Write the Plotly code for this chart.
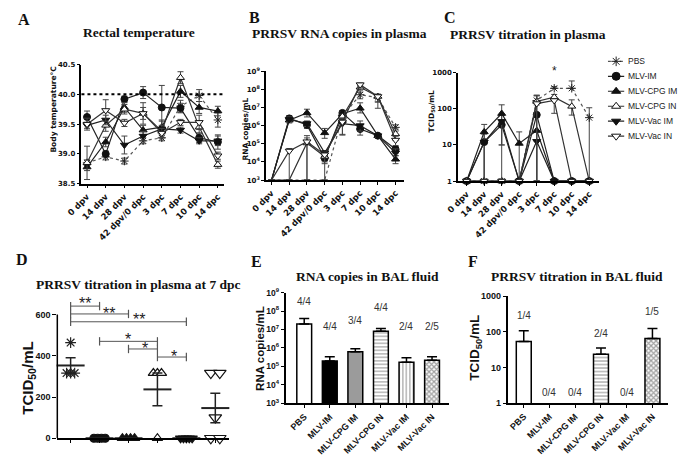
import numpy as np
import plotly.graph_objects as go

W, H = 685, 466
SANS = "Liberation Sans, Arial, sans-serif"
WIDE = "DejaVu Sans, Verdana, sans-serif"
SERIF = "Liberation Serif, Times New Roman, serif"

TIMEPOINTS = ["0 dpv", "14 dpv", "28 dpv", "42 dpv/0 dpc", "3 dpc", "7 dpc", "10 dpc", "14 dpc"]
GROUPS = ["PBS", "MLV-IM", "MLV-CPG IM", "MLV-CPG IN", "MLV-Vac IM", "MLV-Vac IN"]

# ---------- Panel A: rectal temperature (deg C), mean and SEM ----------
TEMP_PBS    = [38.85, 38.95, 38.88, 39.22, 39.27, 39.80, 39.98, 39.57]
TEMP_MLV_IM = [39.62, 39.00, 39.92, 40.03, 39.78, 39.77, 39.27, 39.20]
TEMP_CPG_IM = [38.78, 39.20, 39.78, 39.40, 39.45, 40.05, 39.78, 39.72]
TEMP_CPG_IN = [38.85, 39.48, 39.75, 39.68, 39.38, 40.28, 39.45, 38.82]
TEMP_VAC_IM = [39.48, 39.57, 39.15, 39.30, 39.42, 39.40, 39.22, 39.22]
TEMP_VAC_IN = [39.50, 39.73, 39.52, 39.68, 39.35, 39.53, 39.53, 38.97]
SEM_TEMP_PBS    = [0.05, 0.05, 0.05, 0.05, 0.05, 0.10, 0.10, 0.12]
SEM_TEMP_MLV_IM = [0.10, 0.05, 0.05, 0.10, 0.37, 0.08, 0.08, 0.12]
SEM_TEMP_CPG_IM = [0.06, 0.08, 0.08, 0.08, 0.10, 0.10, 0.10, 0.08]
SEM_TEMP_CPG_IN = [0.28, 0.10, 0.08, 0.18, 0.10, 0.10, 0.10, 0.06]
SEM_TEMP_VAC_IM = [0.05, 0.08, 0.15, 0.08, 0.15, 0.05, 0.05, 0.08]
SEM_TEMP_VAC_IN = [0.10, 0.18, 0.06, 0.10, 0.08, 0.05, 0.12, 0.06]
FEVER_THRESHOLD = 40.0

# ---------- Panel B: PRRSV RNA copies/mL in plasma ----------
RNA_PBS    = [1e3, 1e3, 1e3, 1e3, 3.2e6, 5.0e7, 3.5e7, 8.0e5]
RNA_MLV_IM = [1e3, 2.5e6, 1.1e6, 1.6e4, 5.0e6, 6.5e5, 2.8e5, 5.0e4]
RNA_CPG_IM = [1e3, 2.0e6, 5.0e6, 4.0e5, 4.5e6, 9.0e6, 2.8e5, 1.4e4]
RNA_CPG_IN = [1e3, 1e3, 1.1e5, 2.0e4, 3.2e6, 1.3e8, 4.0e7, 3.5e5]
RNA_VAC_IM = [1e3, 2.2e6, 1.3e6, 3.2e4, 1.3e6, 1.0e6, 2.8e5, 3.2e4]
RNA_VAC_IN = [1e3, 4.0e4, 1.3e5, 2.5e4, 1.6e6, 1.8e8, 4.0e7, 1.6e5]
RNA_HI_PBS    = [0, 0, 0, 0, 1.5e6, 2.0e7, 1.5e7, 3.0e5]
RNA_LO_PBS    = [0, 0, 0, 0, 1.0e6, 2.0e7, 1.5e7, 3.0e5]
RNA_HI_MLV_IM = [0, 1.0e6, 5.0e5, 1.0e4, 1.5e6, 2.0e5, 5.0e4, 2.0e4]
RNA_LO_MLV_IM = [0, 8.0e5, 4.0e5, 8.0e3, 1.5e6, 3.5e5, 5.0e4, 2.0e4]
RNA_HI_CPG_IM = [0, 8.0e5, 3.0e6, 3.0e5, 1.0e6, 9.0e6, 5.0e4, 8.0e3]
RNA_LO_CPG_IM = [0, 6.0e5, 2.0e6, 2.0e5, 1.0e6, 4.0e6, 5.0e4, 6.0e3]
RNA_HI_CPG_IN = [0, 0, 1.0e5, 1.0e4, 1.0e6, 3.0e7, 1.0e7, 3.0e5]
RNA_LO_CPG_IN = [0, 0, 1.09e5, 1.9e4, 1.0e6, 4.0e7, 3.1e7, 2.0e5]
RNA_HI_VAC_IM = [0, 8.0e5, 5.0e5, 1.0e4, 1.0e6, 8.0e5, 5.0e4, 2.0e4]
RNA_LO_VAC_IM = [0, 6.0e5, 4.0e5, 1.0e4, 9.7e5, 5.0e5, 5.0e4, 1.0e4]
RNA_HI_VAC_IN = [0, 1.5e4, 1.5e5, 1.0e4, 1.0e6, 4.0e7, 1.5e7, 1.0e5]
RNA_LO_VAC_IN = [0, 3.9e4, 1.29e5, 1.5e4, 1.3e6, 5.0e7, 2.0e7, 8.0e4]

# ---------- Panel C: PRRSV titration (TCID50/mL) in plasma ----------
TITER_PBS    = [1, 1, 1, 1, 170, 370, 370, 57]
TITER_MLV_IM = [1, 12, 36, 1, 68, 1, 1, 1]
TITER_CPG_IM = [1, 23, 74, 11, 25, 1, 1, 1]
TITER_CPG_IN = [1, 1, 1, 1, 160, 210, 117, 1]
TITER_VAC_IM = [1, 12, 45, 1, 12.6, 1, 1, 1]
TITER_VAC_IN = [1, 1, 1, 1, 140, 170, 1, 1]
TITER_HI_PBS    = [0, 0, 0, 0, 70, 40, 220, 50]
TITER_LO_PBS    = [0, 0, 0, 0, 0, 0, 0, 56]
TITER_HI_MLV_IM = [0, 8, 30, 0, 60, 0, 0, 0]
TITER_LO_MLV_IM = [0, 11, 26, 0, 67, 0, 0, 0]
TITER_HI_CPG_IM = [0, 14, 55, 12, 0, 0, 0, 0]
TITER_LO_CPG_IM = [0, 22, 64, 10, 24, 0, 0, 0]
TITER_HI_CPG_IN = [0, 0, 0, 0, 70, 40, 60, 0]
TITER_LO_CPG_IN = [0, 0, 0, 0, 159, 0, 50, 0]
TITER_HI_VAC_IM = [0, 0, 0, 0, 0, 0, 0, 0]
TITER_LO_VAC_IM = [0, 11, 44, 0, 11.6, 0, 0, 0]
TITER_HI_VAC_IN = [0, 0, 0, 0, 90, 0, 0, 0]
TITER_LO_VAC_IN = [0, 0, 0, 0, 139, 95, 0, 0]
SIG_C_TIMEPOINT = "7 dpc"

# ---------- Panel D: individual titers at 7 dpc ----------
D_PBS    = [464, 316, 316, 316]
D_MLV_IM = [0, 0, 0, 0]
D_CPG_IM = [0, 0, 0, 0]
D_CPG_IN = [316, 316, 316, 0]
D_VAC_IM = [0, 0, 0, 0, 0]
D_VAC_IN = [316, 316, 100, 0, 0]
SIG_PAIRS = [(0, 1), (0, 2), (0, 4), (1, 3), (2, 3), (3, 4)]
SIG_LABELS = ["**", "**", "**", "*", "*", "*"]

# ---------- Panel E / F: BAL fluid ----------
BAL_RNA     = [2.0e7, 2.0e5, 6.2e5, 8.0e6, 1.7e5, 2.2e5]
BAL_RNA_ERR = [2.0e7, 1.3e5, 2.8e5, 3.4e6, 1.3e5, 1.1e5]
BAL_RNA_POS = ["4/4", "4/4", "3/4", "4/4", "2/4", "2/5"]
BAL_TITER     = [54, None, None, 23.5, None, 65]
BAL_TITER_ERR = [53, 0, 0, 12, 0, 60]
BAL_TITER_POS = ["1/4", "0/4", "0/4", "2/4", "0/4", "1/5"]

# ---------------- styles (not data) ----------------
STYLE = {
    "PBS":        dict(symbol="asterisk-open", color="#222", line="#222", dash="dot", lc="#555"),
    "MLV-IM":     dict(symbol="circle", color="#111", line="#111", dash="solid", lc="#222"),
    "MLV-CPG IM": dict(symbol="triangle-up", color="#111", line="#111", dash="solid", lc="#222"),
    "MLV-CPG IN": dict(symbol="triangle-up", color="white", line="#111", dash="solid", lc="#333"),
    "MLV-Vac IM": dict(symbol="triangle-down", color="#111", line="#111", dash="solid", lc="#222"),
    "MLV-Vac IN": dict(symbol="triangle-down", color="white", line="#111", dash="solid", lc="#333"),
}

def px_x(p):
    return p / W

def px_y(p):
    return 1 - p / H

fig = go.Figure()

def add_series(xa, ya, ys, hi, lo, grp, size=7):
    st = STYLE[grp]
    fig.add_trace(go.Scatter(
        x=TIMEPOINTS, y=ys, xaxis=xa, yaxis=ya, mode="lines+markers", name=grp,
        line=dict(color=st["lc"], width=1.2, dash=st["dash"]),
        marker=dict(symbol=st["symbol"], size=size, color=st["color"],
                    line=dict(color=st["line"], width=1)),
        error_y=dict(type="data", array=hi, arrayminus=lo, symmetric=False,
                     color="#444", thickness=1, width=3),
        cliponaxis=False, showlegend=False))

# Panel A
temps = [TEMP_PBS, TEMP_MLV_IM, TEMP_CPG_IM, TEMP_CPG_IN, TEMP_VAC_IM, TEMP_VAC_IN]
sems = [SEM_TEMP_PBS, SEM_TEMP_MLV_IM, SEM_TEMP_CPG_IM, SEM_TEMP_CPG_IN, SEM_TEMP_VAC_IM, SEM_TEMP_VAC_IN]
for g, ys, e in zip(GROUPS, temps, sems):
    add_series("x", "y", ys, e, e, g)

# Panel B
rnas = [RNA_PBS, RNA_MLV_IM, RNA_CPG_IM, RNA_CPG_IN, RNA_VAC_IM, RNA_VAC_IN]
rhi = [RNA_HI_PBS, RNA_HI_MLV_IM, RNA_HI_CPG_IM, RNA_HI_CPG_IN, RNA_HI_VAC_IM, RNA_HI_VAC_IN]
rlo = [RNA_LO_PBS, RNA_LO_MLV_IM, RNA_LO_CPG_IM, RNA_LO_CPG_IN, RNA_LO_VAC_IM, RNA_LO_VAC_IN]
for g, ys, h, l in zip(GROUPS, rnas, rhi, rlo):
    add_series("x2", "y2", ys, h, l, g)

# Panel C
tits = [TITER_PBS, TITER_MLV_IM, TITER_CPG_IM, TITER_CPG_IN, TITER_VAC_IM, TITER_VAC_IN]
thi = [TITER_HI_PBS, TITER_HI_MLV_IM, TITER_HI_CPG_IM, TITER_HI_CPG_IN, TITER_HI_VAC_IM, TITER_HI_VAC_IN]
tlo = [TITER_LO_PBS, TITER_LO_MLV_IM, TITER_LO_CPG_IM, TITER_LO_CPG_IN, TITER_LO_VAC_IM, TITER_LO_VAC_IN]
for g, ys, h, l in zip(GROUPS, tits, thi, tlo):
    add_series("x3", "y3", ys, h, l, g)

# Manual legend for panel C (hidden helper axes x7/y7)
for i, g in enumerate(GROUPS):
    st = STYLE[g]
    fig.add_trace(go.Scatter(
        x=[0, 0.5, 1], y=[i, i, i], xaxis="x7", yaxis="y7", mode="lines",
        line=dict(color=st["lc"], width=1.2, dash=st["dash"]), showlegend=False, hoverinfo="skip"))
    fig.add_trace(go.Scatter(
        x=[0.5], y=[i], xaxis="x7", yaxis="y7", mode="markers",
        marker=dict(symbol=st["symbol"], size=8, color=st["color"], line=dict(color=st["line"], width=1)),
        showlegend=False, hoverinfo="skip", cliponaxis=False))

# Panel D
d_sets = [D_PBS, D_MLV_IM, D_CPG_IM, D_CPG_IN, D_VAC_IM, D_VAC_IN]
d_steps = [0.14, 0.13, 0.14, 0.14, 0.10, 0.31]
d_sizes = [9, 8, 9, 9, 9, 11]

def spread(vals, step):
    counts = {}
    for v in vals:
        counts[v] = counts.get(v, 0) + 1
    seen, offs = {}, []
    for v in vals:
        k = seen.get(v, 0)
        seen[v] = k + 1
        offs.append((k - (counts[v] - 1) / 2) * step)
    return offs

for i, (g, vals) in enumerate(zip(GROUPS, d_sets)):
    st = STYLE[g]
    offs = spread(vals, d_steps[i])
    fig.add_trace(go.Scatter(
        x=[i + o for o in offs], y=vals, xaxis="x4", yaxis="y4", mode="markers",
        marker=dict(symbol=st["symbol"], size=d_sizes[i], color=st["color"],
                    line=dict(color=st["line"], width=1.2)),
        cliponaxis=False, showlegend=False))
    arr = np.array(vals, dtype=float)
    mean = arr.mean()
    sem = arr.std(ddof=1) / np.sqrt(len(arr))
    fig.add_trace(go.Scatter(
        x=[i], y=[mean], xaxis="x4", yaxis="y4", mode="markers",
        marker=dict(symbol="line-ew-open", size=20, color="#222", line=dict(width=2, color="#222")),
        error_y=dict(type="data", array=[sem], color="#222", thickness=1.5, width=5),
        cliponaxis=False, showlegend=False))

sig_levels = [641, 603, 565, 470, 433, 394]
sig_label_x = [0.5, 1.34, 2.35, 2.0, 2.56, 3.57]
sig_label_shift = [3, 0, 2, 2, 0, 1]
for (a, b), lvl in zip(SIG_PAIRS, sig_levels):
    fig.add_trace(go.Scatter(
        x=[a, b], y=[lvl, lvl], xaxis="x4", yaxis="y4", mode="lines+markers",
        line=dict(color="#555", width=1),
        marker=dict(symbol="line-ns-open", size=6, color="#555", line=dict(width=1.2, color="#555")),
        cliponaxis=False, showlegend=False))

# Panel E / F bars
BAR_FILL = ["white", "black", "#9b9b9b", "white", "white", "white"]
BAR_PATTERN = ["", "", "", "-", "|", "x"]
BAR_SOLIDITY = [0.3, 0.3, 0.3, 0.35, 0.35, 0.6]
for xa, ya, ys, err in [("x5", "y5", BAL_RNA, BAL_RNA_ERR), ("x6", "y6", BAL_TITER, BAL_TITER_ERR)]:
    fig.add_trace(go.Bar(
        x=GROUPS, y=ys, xaxis=xa, yaxis=ya, width=0.58,
        marker=dict(color=BAR_FILL, line=dict(color="black", width=1.5),
                    pattern=dict(shape=BAR_PATTERN, fgcolor="black", size=3.5, solidity=BAR_SOLIDITY)),
        error_y=dict(type="data", array=err, arrayminus=[0] * 6, symmetric=False,
                     color="black", thickness=1.5, width=5),
        showlegend=False))

# ---------------- layout ----------------
tick_xw = dict(family=WIDE, size=8.5, color="#111", weight="bold")
tick_yw = dict(family=WIDE, size=7, color="#111", weight="bold")
tick_b9 = dict(family=SANS, size=9, color="#111", weight="bold")
tick_b85 = dict(family=SANS, size=8.5, color="#111", weight="bold")
common = dict(showline=True, linecolor="black", linewidth=1.5, ticks="outside", ticklen=3,
              tickwidth=1.2, tickcolor="black", showgrid=False, zeroline=False)

layout = dict(
    width=W, height=H, margin=dict(l=0, r=0, t=0, b=0),
    plot_bgcolor="white", paper_bgcolor="white", showlegend=False,
    xaxis=dict(domain=[px_x(67), px_x(213)], anchor="y", type="category", range=[-0.3, 7.33],
               tickangle=-45, tickfont=tick_xw, **common),
    yaxis=dict(domain=[px_y(182), px_y(60)], anchor="x", range=[38.5, 40.5],
               tickvals=[38.5, 39, 39.5, 40, 40.5], tickformat=".1f", tickfont=tick_yw, **common),
    xaxis2=dict(domain=[px_x(256), px_x(397)], anchor="y2", type="category", range=[-0.31, 7.46],
                tickangle=-45, tickfont=tick_xw, **common),
    yaxis2=dict(domain=[px_y(178.3), px_y(66.7)], anchor="x2", type="log", range=[3, 9],
                tickvals=[10 ** k for k in range(3, 10)],
                ticktext=["10<sup>%d</sup>" % k for k in range(3, 10)], tickfont=tick_yw, **common),
    xaxis3=dict(domain=[px_x(452.5), px_x(597)], anchor="y3", type="category", range=[-0.5, 7.56],
                tickangle=-45, tickfont=tick_xw, **common),
    yaxis3=dict(domain=[px_y(179.3), px_y(68.3)], anchor="x3", type="log", range=[0, 3],
                tickvals=[1, 10, 100, 1000], ticktext=["1", "10", "100", "1000"], tickfont=tick_yw, **common),
    xaxis4=dict(domain=[px_x(42.3), px_x(218)], anchor="y4", range=[-0.46, 5.47],
                tickvals=list(range(6)), showticklabels=False, **common),
    yaxis4=dict(domain=[px_y(442.7), px_y(294.9)], anchor="x4", range=[0, 700],
                tickvals=[0, 200, 400, 600], tickfont=tick_b9,
                showline=False, ticks="outside", ticklen=4, tickwidth=1.2, tickcolor="black",
                showgrid=False, zeroline=False),
    xaxis5=dict(domain=[px_x(276), px_x(443)], anchor="y5", type="category", range=[-0.73, 5.65],
                tickangle=-45, tickfont=tick_b9, **common),
    yaxis5=dict(domain=[px_y(407), px_y(293.5)], anchor="x5", type="log", range=[3, 9],
                tickvals=[10 ** k for k in range(3, 10)],
                ticktext=["10<sup>%d</sup>" % k for k in range(3, 10)], tickfont=tick_b85, **common),
    xaxis6=dict(domain=[px_x(503.3), px_x(668)], anchor="y6", type="category", range=[-0.63, 5.62],
                tickangle=-45, tickfont=tick_b9, **common),
    yaxis6=dict(domain=[px_y(406.7), px_y(297.3)], anchor="x6", type="log", range=[0, 3],
                tickvals=[1, 10, 100, 1000], ticktext=["1", "10", "100", "1000"], tickfont=tick_b9, **common),
    xaxis7=dict(domain=[px_x(606), px_x(623)], anchor="y7", range=[0, 1], visible=False),
    yaxis7=dict(domain=[px_y(141), px_y(49)], anchor="x7", range=[5.5, -0.5], visible=False),
)
fig.update_layout(**layout)

shapes = [
    dict(type="line", xref="x domain", x0=0, x1=1, yref="y", y0=FEVER_THRESHOLD, y1=FEVER_THRESHOLD,
         line=dict(color="black", width=2, dash="dot")),
    dict(type="line", xref="x4 domain", x0=0, x1=0, yref="y4", y0=0, y1=600,
         line=dict(color="black", width=1.5)),
]
fig.update_layout(shapes=shapes)

ann = []

def text(x, y, s, size, family=SANS, bold=True, angle=0, xanchor="center", color="#111"):
    ann.append(dict(x=px_x(x), y=px_y(y), xref="paper", yref="paper", text=s, showarrow=False,
                    textangle=angle, xanchor=xanchor, yanchor="middle",
                    font=dict(family=family, size=size, color=color, weight="bold" if bold else "normal")))

# panel letters
for lx, ly, L in [(8, 14, "A"), (244, 12, "B"), (444, 12, "C"), (6, 260, "D"), (246, 262, "E"), (468, 262, "F")]:
    text(lx, ly, L, 16, family=SERIF)
# titles
text(125.5, 27, "Rectal temperature", 13.5, family=SERIF)
text(331, 28.5, "PRRSV RNA copies in plasma", 13.5, family=SERIF)
text(524, 29.5, "PRRSV titration in plasma", 13.5, family=SERIF)
text(125, 285, "PRRSV titration in plasma at 7 dpc", 13.5, family=SERIF)
text(360, 277, "RNA copies in BAL fluid", 13.5, family=SERIF)
text(574, 277, "PRRSV titration in BAL fluid", 13.5, family=SERIF)
# y-axis titles
text(38, 106, "Body temperature°C", 7.5, family=WIDE, angle=-90)
text(234, 126, "RNA copies/mL", 7.5, family=WIDE, angle=-90)
text(426, 108, "TCID<sub>50</sub>/mL", 7.5, family=WIDE, angle=-90)
text(12, 381, "TCID<sub>50</sub>/mL", 15, angle=-90)
text(250, 351, "RNA copies/mL", 11.5, angle=-90)
text(471, 350, "TCID<sub>50</sub>/mL", 13.5, angle=-90)

# legend texts
for i, g in enumerate(GROUPS):
    ann.append(dict(x=px_x(625), y=i, xref="paper", yref="y7", text=g, showarrow=False,
                    xanchor="left", yanchor="middle", font=dict(family=SANS, size=8.5, color="#222")))

# significance star in C
ann.append(dict(x=TIMEPOINTS.index(SIG_C_TIMEPOINT), y=3, xref="x3", yref="y3", text="*", showarrow=False,
                yanchor="middle", yshift=2, font=dict(family=SANS, size=12, color="#222")))

# significance labels in D
for lx, lvl, lab, sh in zip(sig_label_x, sig_levels, SIG_LABELS, sig_label_shift):
    ann.append(dict(x=lx, y=lvl, xref="x4", yref="y4", text=lab, showarrow=False,
                    yanchor="middle", yshift=sh, font=dict(family=SANS, size=16, color="#222")))

# fraction labels in E and F (label heights in log units)
e_label_y = [8.52, 7.15, 7.47, 8.18, 7.15, 7.15]
f_label_y = [2.47, 0.31, 0.31, 1.96, 0.31, 2.56]
for i in range(len(GROUPS)):
    ann.append(dict(x=i, y=e_label_y[i], xref="x5", yref="y5", text=BAL_RNA_POS[i], showarrow=False,
                    font=dict(family=SANS, size=10, color="#333")))
    ann.append(dict(x=i, y=f_label_y[i], xref="x6", yref="y6", text=BAL_TITER_POS[i], showarrow=False,
                    font=dict(family=SANS, size=10, color="#333")))

fig.update_layout(annotations=ann)
fig.write_html("out.html", config={"displayModeBar": False},
               post_script="document.body.style.margin='0';document.body.style.overflow='hidden';")
